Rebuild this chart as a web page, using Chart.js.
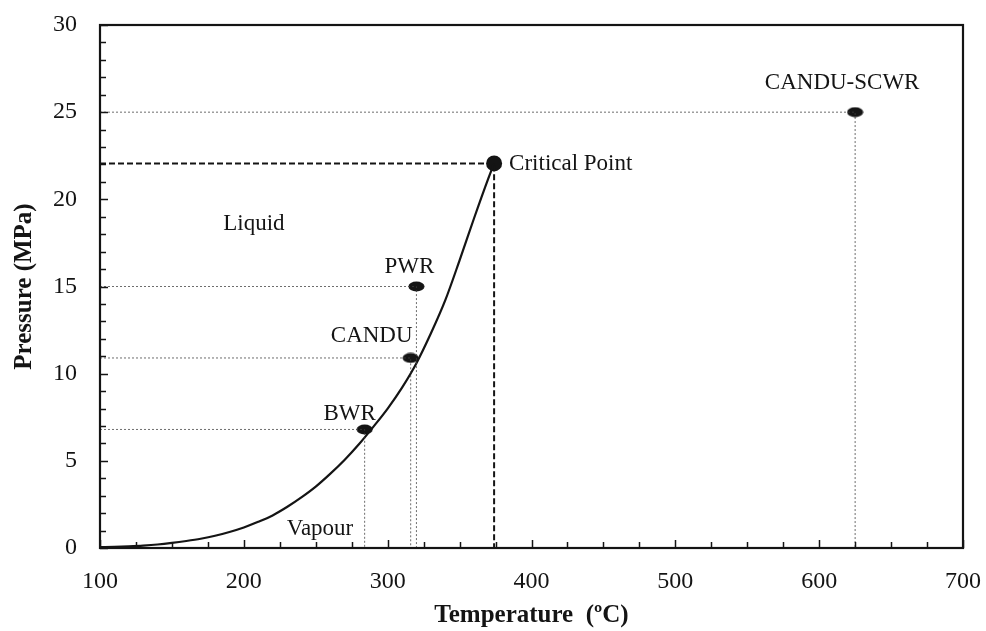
<!DOCTYPE html>
<html>
<head>
<meta charset="utf-8">
<title>Water saturation curve and reactor operating points</title>
<script src="https://cdn.jsdelivr.net/npm/chart.js@4.4.0/dist/chart.umd.min.js"></script>
<style>
    html, body { margin: 0; padding: 0; background: #fff; }
    #wrap { width: 986px; height: 631px; }
</style>
</head>
<body>
<div id="wrap"><canvas id="phaseChart" width="986" height="631"></canvas></div>
<script>
// Saturation curve (temperature in degC, pressure in MPa)
const satTemp  = [100, 110, 120, 130, 140, 150, 160, 170, 180, 190, 200, 210, 220, 230, 240,
                  250, 260, 270, 280, 290, 300, 310, 320, 330, 340, 350, 360, 370, 374];
const satPress = [0.05, 0.07, 0.10, 0.14, 0.20, 0.29, 0.40, 0.53, 0.70, 0.92, 1.18, 1.50, 1.87, 2.35, 2.90,
                  3.52, 4.25, 5.05, 5.95, 6.95, 8.0, 9.2, 10.6, 12.3, 14.2, 16.5, 18.9, 21.2, 22.06];

// Critical point
const critTemp = 374;
const critPress = 22.06;

// Reactor operating points
const reactorNames = ['BWR', 'CANDU', 'PWR', 'CANDU-SCWR'];
const reactorTemp  = [284, 316, 320, 625];
const reactorPress = [6.8, 10.9, 15, 25];

// Region labels
const regionNames = ['Liquid', 'Vapour'];
const regionTemp  = [207, 253];
const regionPress = [18.6, 1.1];

const FONT = '"Liberation Serif", "Times New Roman", serif';
const INK = '#141414';

// ellipse marker used for the reactor points
function makeEllipse(w, h) {
    const c = document.createElement('canvas');
    c.width = w; c.height = h;
    const g = c.getContext('2d');
    g.fillStyle = INK;
    g.beginPath();
    g.ellipse(w / 2, h / 2, w / 2 - 0.5, h / 2 - 0.5, 0, 0, Math.PI * 2);
    g.fill();
    return c;
}
const ellipse = makeEllipse(17, 11);

const satData = satTemp.map((t, i) => ({ x: t, y: satPress[i] }));

// dotted guide lines from the axes to each reactor point
const guideSets = reactorTemp.map((t, i) => ({
    label: reactorNames[i] + ' guide',
    data: [{ x: 100, y: reactorPress[i] }, { x: t, y: reactorPress[i] }, { x: t, y: 0 }],
    showLine: true,
    borderColor: 'rgba(60,60,60,0.75)',
    borderWidth: 1,
    borderDash: [2, 2],
    pointRadius: 0,
    tension: 0,
}));

const datasets = [
    ...guideSets,
    {
        label: 'Critical guide',
        data: [{ x: 100, y: critPress }, { x: critTemp, y: critPress }, { x: critTemp, y: 0 }],
        showLine: true,
        borderColor: INK,
        borderWidth: 2,
        borderDash: [6, 3],
        pointRadius: 0,
        tension: 0,
    },
    {
        label: 'Saturation',
        data: satData,
        showLine: true,
        borderColor: INK,
        borderWidth: 2.2,
        pointRadius: 0,
        cubicInterpolationMode: 'monotone',
    },
    {
        label: 'Reactors',
        data: reactorTemp.map((t, i) => ({ x: t, y: reactorPress[i] })),
        showLine: false,
        pointStyle: ellipse,
        pointRadius: 8,
    },
    {
        label: 'Critical Point',
        data: [{ x: critTemp, y: critPress }],
        showLine: false,
        pointStyle: 'circle',
        pointRadius: 8,
        backgroundColor: INK,
        borderColor: INK,
        borderWidth: 0,
    },
];

// frame and inward tick marks
const frameTicks = {
    id: 'frameTicks',
    afterDatasetsDraw(chart) {
        const { ctx, chartArea: a, scales: { x, y } } = chart;
        ctx.save();
        ctx.strokeStyle = INK;
        ctx.lineWidth = 1.5;
        ctx.beginPath();
        x.ticks.forEach(t => {
            const px = Math.round(x.getPixelForValue(t.value)) + 0.5;
            const len = t.value % 100 === 0 ? 8 : 6;
            ctx.moveTo(px, a.bottom);
            ctx.lineTo(px, a.bottom - len);
        });
        y.ticks.forEach(t => {
            const py = Math.round(y.getPixelForValue(t.value)) + 0.5;
            const len = t.value % 5 === 0 ? 8 : 6;
            ctx.moveTo(a.left, py);
            ctx.lineTo(a.left + len, py);
        });
        ctx.stroke();
        ctx.lineWidth = 2.2;
        ctx.strokeRect(a.left, a.top, a.right - a.left, a.bottom - a.top);
        ctx.restore();
    }
};

// text labels placed in data coordinates
const pointLabels = {
    id: 'pointLabels',
    afterDraw(chart) {
        const { ctx, scales: { x, y } } = chart;
        const offsets = [[-15, -16], [-39, -22], [-7, -20], [-13, -29]];
        ctx.save();
        ctx.fillStyle = INK;
        ctx.font = '23px ' + FONT;
        ctx.textBaseline = 'middle';
        ctx.textAlign = 'center';
        reactorNames.forEach((name, i) => {
            const px = x.getPixelForValue(reactorTemp[i]) + offsets[i][0];
            const py = y.getPixelForValue(reactorPress[i]) + offsets[i][1];
            ctx.fillText(name, px, py);
        });
        regionNames.forEach((name, i) => {
            ctx.fillText(name, x.getPixelForValue(regionTemp[i]), y.getPixelForValue(regionPress[i]));
        });
        ctx.textAlign = 'left';
        ctx.fillText('Critical Point', x.getPixelForValue(critTemp) + 15, y.getPixelForValue(critPress) + 1);
        ctx.restore();
    }
};

const ctx = document.getElementById('phaseChart').getContext('2d');
const chart = new Chart(ctx, {
    type: 'scatter',
    data: { datasets },
    options: {
        responsive: false,
        animation: false,
        events: [],
        layout: { padding: { top: 25, right: 23, bottom: 0, left: 0 } },
        plugins: { legend: { display: false }, tooltip: { enabled: false } },
        scales: {
            x: {
                type: 'linear',
                min: 100,
                max: 700,
                grid: { display: false, drawTicks: false },
                border: { display: false },
                ticks: {
                    stepSize: 25,
                    autoSkip: false,
                    maxRotation: 0,
                    padding: 19,
                    color: INK,
                    font: { family: FONT, size: 24 },
                    callback: v => (v % 100 === 0 ? v : ''),
                },
                title: {
                    display: true,
                    text: 'Temperature  (ºC)',
                    color: INK,
                    font: { family: FONT, size: 25, weight: 'bold' },
                    padding: { top: 0, bottom: 0 },
                },
                afterFit(scale) {
                    scale.height = 83;
                    scale.paddingLeft = 0;
                    scale.paddingRight = 0;
                },
            },
            y: {
                type: 'linear',
                min: 0,
                max: 30,
                grid: { display: false, drawTicks: false },
                border: { display: false },
                ticks: {
                    stepSize: 1,
                    autoSkip: false,
                    padding: 23,
                    color: INK,
                    font: { family: FONT, size: 24 },
                    callback: v => (v % 5 === 0 ? v : ''),
                },
                title: {
                    display: true,
                    text: 'Pressure (MPa)',
                    color: INK,
                    font: { family: FONT, size: 25, weight: 'bold' },
                    padding: { top: 10, bottom: 0 },
                },
                afterFit(scale) {
                    scale.width = 100;
                    scale.paddingTop = 0;
                    scale.paddingBottom = 0;
                },
            },
        },
    },
    plugins: [frameTicks, pointLabels],
});
</script>
</body>
</html>
